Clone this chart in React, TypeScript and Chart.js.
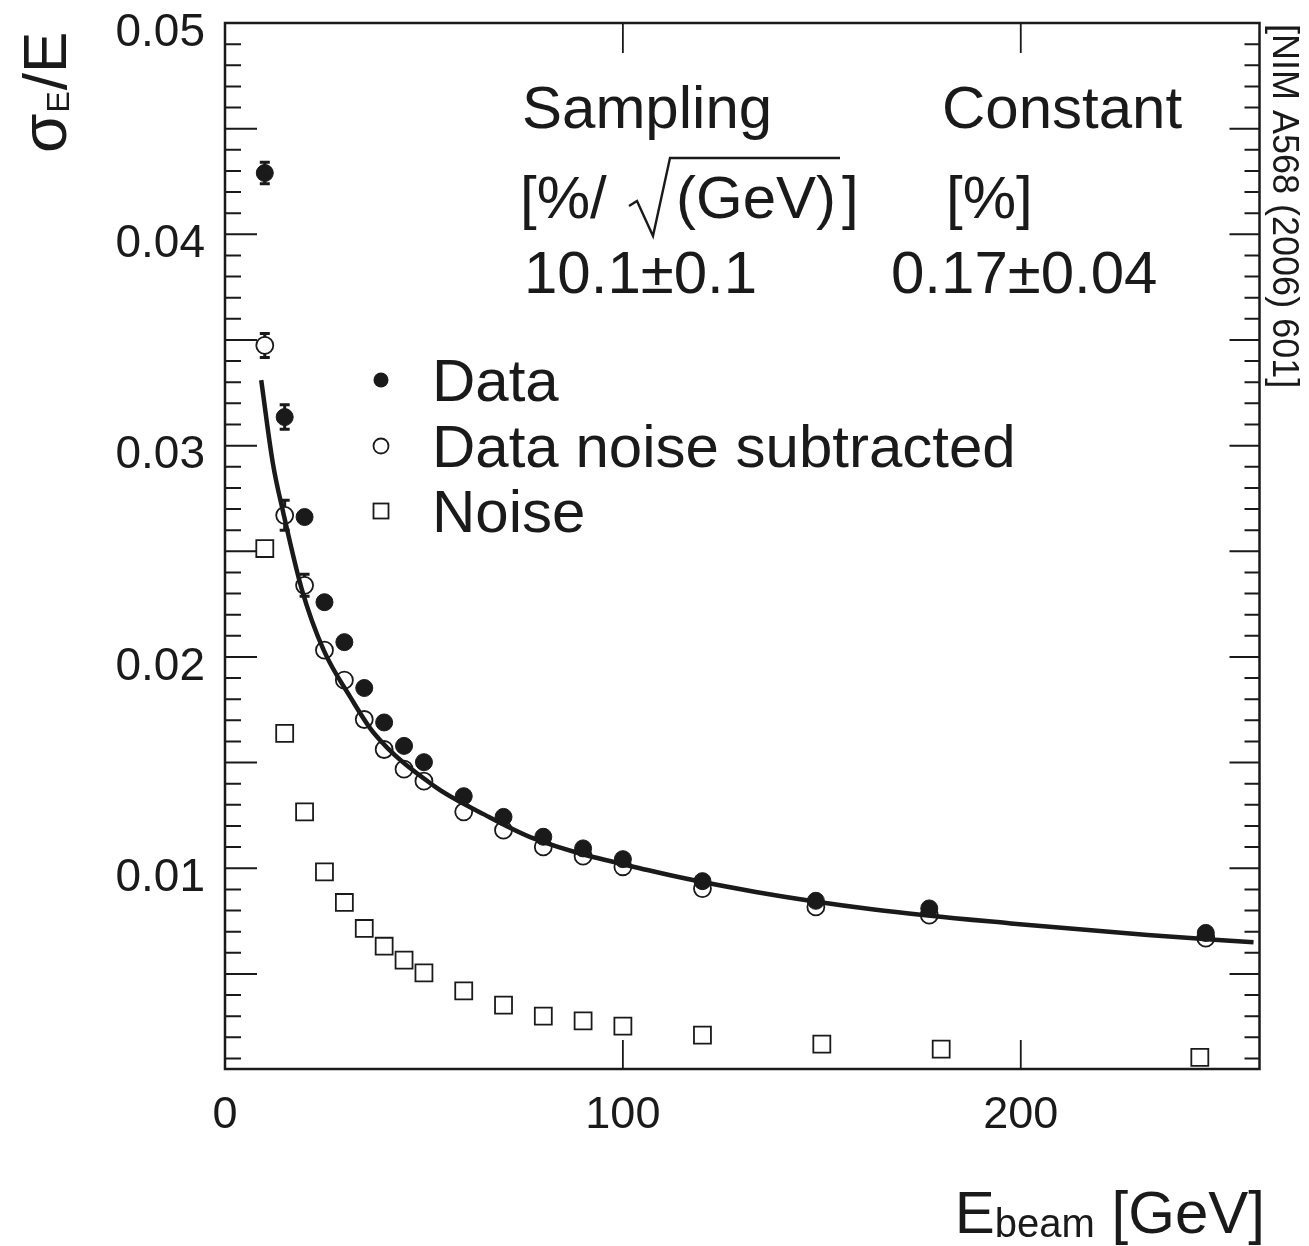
import React, { useEffect, useRef } from 'react';
import { Chart, registerables } from 'chart.js';

Chart.register(...registerables);

const W = 1309;
const H = 1246;
const FONT = '"Liberation Sans", Arial, Helvetica, sans-serif';
const INK = '#1a1a1a';

// ---- data ----
const seriesLabels = ['Data', 'Data noise subtracted', 'Noise'];

const dataE = [10, 15, 20, 25, 30, 35, 40, 45, 50, 60, 70, 80, 90, 100, 120, 148.5, 177, 246.5];
const dataRes = [0.0429, 0.03135, 0.02662, 0.02259, 0.0207, 0.01853, 0.0169, 0.01579, 0.01502, 0.01341, 0.01243, 0.01149, 0.01094, 0.01043, 0.00939, 0.00846, 0.0081, 0.00694];
const dataErr = [0.00051, 0.00058, 0, 0, 0, 0, 0, 0, 0, 0, 0, 0, 0, 0, 0, 0, 0, 0];

const subE = [10, 15, 20, 25, 30, 35, 40, 45, 50, 60, 70, 80, 90, 100, 120, 148.5, 177, 246.5];
const subRes = [0.03474, 0.0267, 0.02339, 0.02032, 0.0189, 0.01704, 0.01562, 0.01469, 0.01412, 0.01267, 0.0118, 0.01101, 0.01057, 0.01007, 0.00904, 0.00817, 0.00778, 0.00669];
const subErr = [0.00057, 0.00071, 0.00052, 0, 0, 0, 0, 0, 0, 0, 0, 0, 0, 0, 0, 0, 0, 0];

const noiseE = [10, 15, 20, 25, 30, 35, 40, 45, 50, 60, 70, 80, 90, 100, 120, 150, 180, 245];
const noiseRes = [0.02513, 0.01638, 0.01267, 0.00983, 0.00838, 0.00715, 0.00631, 0.00565, 0.00505, 0.0042, 0.00352, 0.003, 0.00278, 0.00253, 0.0021, 0.00168, 0.00144, 0.00105];

const fitE = [9.1, 12, 14.7, 19.3, 24.8, 31.5, 37.4, 52.5, 65.1, 77.7, 107, 133.4, 163.1, 197.5, 231.9, 258.5];
const fitRes = [0.0331, 0.0292, 0.02678, 0.0232, 0.02032, 0.0181, 0.0164, 0.0139, 0.01255, 0.0114, 0.00988, 0.00888, 0.00805, 0.00739, 0.00684, 0.0065];

const xTicks = [0, 100, 200];
const xTickLabels = ['0', '100', '200'];
const yTicks = [0.01, 0.02, 0.03, 0.04, 0.05];
const yTickLabels = ['0.01', '0.02', '0.03', '0.04', '0.05'];

const X_MIN = 0;
const X_MAX = 260;
const Y_MIN = 0.0005;
const Y_MAX = 0.05;

const toPts = (xs: number[], ys: number[]) => xs.map((x, i) => ({ x, y: ys[i] }));

const decorPlugin = {
  id: 'decor',
  beforeDatasetsDraw(chart: any) {
    const ctx = chart.ctx;
    const xs = chart.scales.x;
    const ys = chart.scales.y;
    ctx.save();
    ctx.strokeStyle = INK;
    ctx.lineWidth = 3;
    const sets: [number[], number[], number[]][] = [
      [dataE, dataRes, dataErr],
      [subE, subRes, subErr],
    ];
    for (const [ex, ey, ee] of sets) {
      ex.forEach((e, i) => {
        if (!ee[i]) return;
        const px = xs.getPixelForValue(e);
        const y1 = ys.getPixelForValue(ey[i] + ee[i]);
        const y2 = ys.getPixelForValue(ey[i] - ee[i]);
        ctx.beginPath();
        ctx.moveTo(px, y1);
        ctx.lineTo(px, y2);
        ctx.moveTo(px - 5, y1);
        ctx.lineTo(px + 5, y1);
        ctx.moveTo(px - 5, y2);
        ctx.lineTo(px + 5, y2);
        ctx.stroke();
      });
    }
    ctx.restore();
  },
  afterDraw(chart: any) {
    const ctx = chart.ctx;
    const a = chart.chartArea;
    const xs = chart.scales.x;
    const ys = chart.scales.y;
    ctx.save();
    ctx.strokeStyle = INK;
    ctx.fillStyle = INK;

    // frame
    ctx.lineWidth = 2.5;
    ctx.strokeRect(a.left, a.top, a.right - a.left, a.bottom - a.top);

    // y ticks (left and right, inward)
    ctx.lineWidth = 2;
    for (let k = 1; k < 50; k++) {
      const v = k / 1000;
      if (v <= Y_MIN || v >= Y_MAX) continue;
      const py = ys.getPixelForValue(v);
      const long = k % 5 === 0;
      const lenL = long ? 32 : 16;
      const lenR = long ? 30 : 15;
      ctx.beginPath();
      ctx.moveTo(a.left, py);
      ctx.lineTo(a.left + lenL, py);
      ctx.moveTo(a.right, py);
      ctx.lineTo(a.right - lenR, py);
      ctx.stroke();
    }
    // x ticks (bottom and top, inward)
    ctx.lineWidth = 1.8;
    for (const v of xTicks) {
      if (v <= X_MIN || v >= X_MAX) continue;
      const px = xs.getPixelForValue(v);
      ctx.beginPath();
      ctx.moveTo(px, a.bottom);
      ctx.lineTo(px, a.bottom - 29);
      ctx.moveTo(px, a.top);
      ctx.lineTo(px, a.top + 30);
      ctx.stroke();
    }

    // annotation block
    ctx.textBaseline = 'alphabetic';
    ctx.textAlign = 'left';
    ctx.font = `60px ${FONT}`;
    ctx.fillText('Sampling', 522, 128);
    ctx.fillText('Constant', 942, 128);
    ctx.fillText('[%/', 520, 218);
    ctx.fillText('(GeV)', 676, 218);
    ctx.fillText(']', 842, 218);
    ctx.fillText('[%]', 946, 218);
    ctx.fillText('10.1\u00b10.1', 524, 293);
    ctx.fillText('0.17\u00b10.04', 891, 293);
    // radical sign with overline
    ctx.lineWidth = 2.4;
    ctx.beginPath();
    ctx.moveTo(629, 206);
    ctx.lineTo(637, 201);
    ctx.lineTo(653, 236);
    ctx.lineTo(670, 158);
    ctx.lineTo(840, 158);
    ctx.stroke();

    // legend
    ctx.lineWidth = 1.8;
    ctx.beginPath();
    ctx.arc(381, 380, 7.5, 0, Math.PI * 2);
    ctx.fill();
    ctx.beginPath();
    ctx.arc(381, 446, 7.5, 0, Math.PI * 2);
    ctx.stroke();
    ctx.strokeRect(373.5, 503.5, 15, 15);
    ctx.font = `60px ${FONT}`;
    ctx.fillText(seriesLabels[0], 432, 401);
    ctx.fillText(seriesLabels[1], 432, 467);
    ctx.fillText(seriesLabels[2], 432, 532);

    // y-axis title: sigma_E / E (rotated)
    ctx.save();
    ctx.translate(66, 153);
    ctx.rotate(-Math.PI / 2);
    ctx.font = `64px ${FONT}`;
    ctx.fillText('\u03c3', 0, 0);
    const w1 = ctx.measureText('\u03c3').width;
    ctx.font = `32px ${FONT}`;
    ctx.fillText('E', w1 + 1, 3);
    const w2 = ctx.measureText('E').width;
    ctx.font = `62px ${FONT}`;
    ctx.fillText('/E', w1 + w2 + 2, 0);
    ctx.restore();

    // x-axis title: E_beam [GeV]
    ctx.font = `60px ${FONT}`;
    const wE = ctx.measureText('E').width;
    const wG = ctx.measureText(' [GeV]').width;
    ctx.font = `40px ${FONT}`;
    const wB = ctx.measureText('beam').width;
    const x0 = 1265 - (wE + wB + wG);
    ctx.font = `60px ${FONT}`;
    ctx.fillText('E', x0, 1233);
    ctx.font = `40px ${FONT}`;
    ctx.fillText('beam', x0 + wE, 1237);
    ctx.font = `60px ${FONT}`;
    ctx.fillText(' [GeV]', x0 + wE + wB, 1233);

    // reference text on the right (rotated clockwise)
    ctx.save();
    ctx.translate(1273, 24);
    ctx.rotate(Math.PI / 2);
    ctx.font = `36px ${FONT}`;
    ctx.fillText('[NIM A568 (2006) 601]', 0, 0);
    ctx.restore();

    ctx.restore();
  },
};

export default function App() {
  const ref = useRef<HTMLCanvasElement | null>(null);
  useEffect(() => {
    if (!ref.current) return;
    const chart = new Chart(ref.current, {
      type: 'scatter',
      data: {
        datasets: [
          {
            label: seriesLabels[0],
            data: toPts(dataE, dataRes),
            pointStyle: 'circle',
            pointRadius: 8.5,
            backgroundColor: INK,
            borderColor: INK,
            borderWidth: 1,
            order: 0,
          },
          {
            label: 'fit',
            data: toPts(fitE, fitRes),
            showLine: true,
            pointRadius: 0,
            borderColor: INK,
            borderWidth: 4.5,
            cubicInterpolationMode: 'monotone',
            fill: false,
            order: 1,
          },
          {
            label: seriesLabels[1],
            data: toPts(subE, subRes),
            pointStyle: 'circle',
            pointRadius: 8.5,
            backgroundColor: '#ffffff',
            borderColor: INK,
            borderWidth: 1.8,
            order: 2,
          },
          {
            label: seriesLabels[2],
            data: toPts(noiseE, noiseRes),
            pointStyle: 'rect',
            pointRadius: 12,
            backgroundColor: '#ffffff',
            borderColor: INK,
            borderWidth: 1.8,
            order: 3,
          },
        ] as any,
      },
      options: {
        responsive: false,
        animation: false,
        devicePixelRatio: 1,
        layout: { padding: { top: 23, right: W - 1259.5, bottom: 0, left: 0 } },
        plugins: { legend: { display: false }, tooltip: { enabled: false }, title: { display: false } },
        scales: {
          x: {
            type: 'linear',
            min: X_MIN,
            max: X_MAX,
            grid: { display: false, drawTicks: false },
            border: { display: false },
            ticks: {
              color: INK,
              font: { size: 45, family: FONT },
              padding: 20,
              maxRotation: 0,
              autoSkip: false,
              callback: (v: any) => {
                const i = xTicks.indexOf(Number(v));
                return i >= 0 ? xTickLabels[i] : '';
              },
            },
            afterBuildTicks: (s: any) => {
              s.ticks = xTicks.map((v) => ({ value: v }));
            },
            afterFit: (s: any) => {
              s.height = H - 1069;
              s.paddingLeft = 0;
              s.paddingRight = 0;
              s.paddingTop = 0;
              s.paddingBottom = 0;
            },
          },
          y: {
            type: 'linear',
            min: Y_MIN,
            max: Y_MAX,
            grid: { display: false, drawTicks: false },
            border: { display: false },
            ticks: {
              color: INK,
              font: { size: 46, family: FONT },
              padding: 20,
              labelOffset: 10,
              autoSkip: false,
              callback: (v: any) => {
                const i = yTicks.findIndex((t) => Math.abs(t - Number(v)) < 1e-9);
                return i >= 0 ? yTickLabels[i] : '';
              },
            },
            afterBuildTicks: (s: any) => {
              s.ticks = yTicks.map((v) => ({ value: v }));
            },
            afterFit: (s: any) => {
              s.width = 225;
              s.paddingLeft = 0;
              s.paddingRight = 0;
              s.paddingTop = 0;
              s.paddingBottom = 0;
            },
          },
        },
      } as any,
      plugins: [decorPlugin],
    });
    return () => chart.destroy();
  }, []);

  return (
    <div style={{ position: 'fixed', left: 0, top: 0, width: W, height: H, background: '#ffffff' }}>
      <canvas ref={ref} width={W} height={H} style={{ display: 'block', width: W, height: H }} />
    </div>
  );
}
